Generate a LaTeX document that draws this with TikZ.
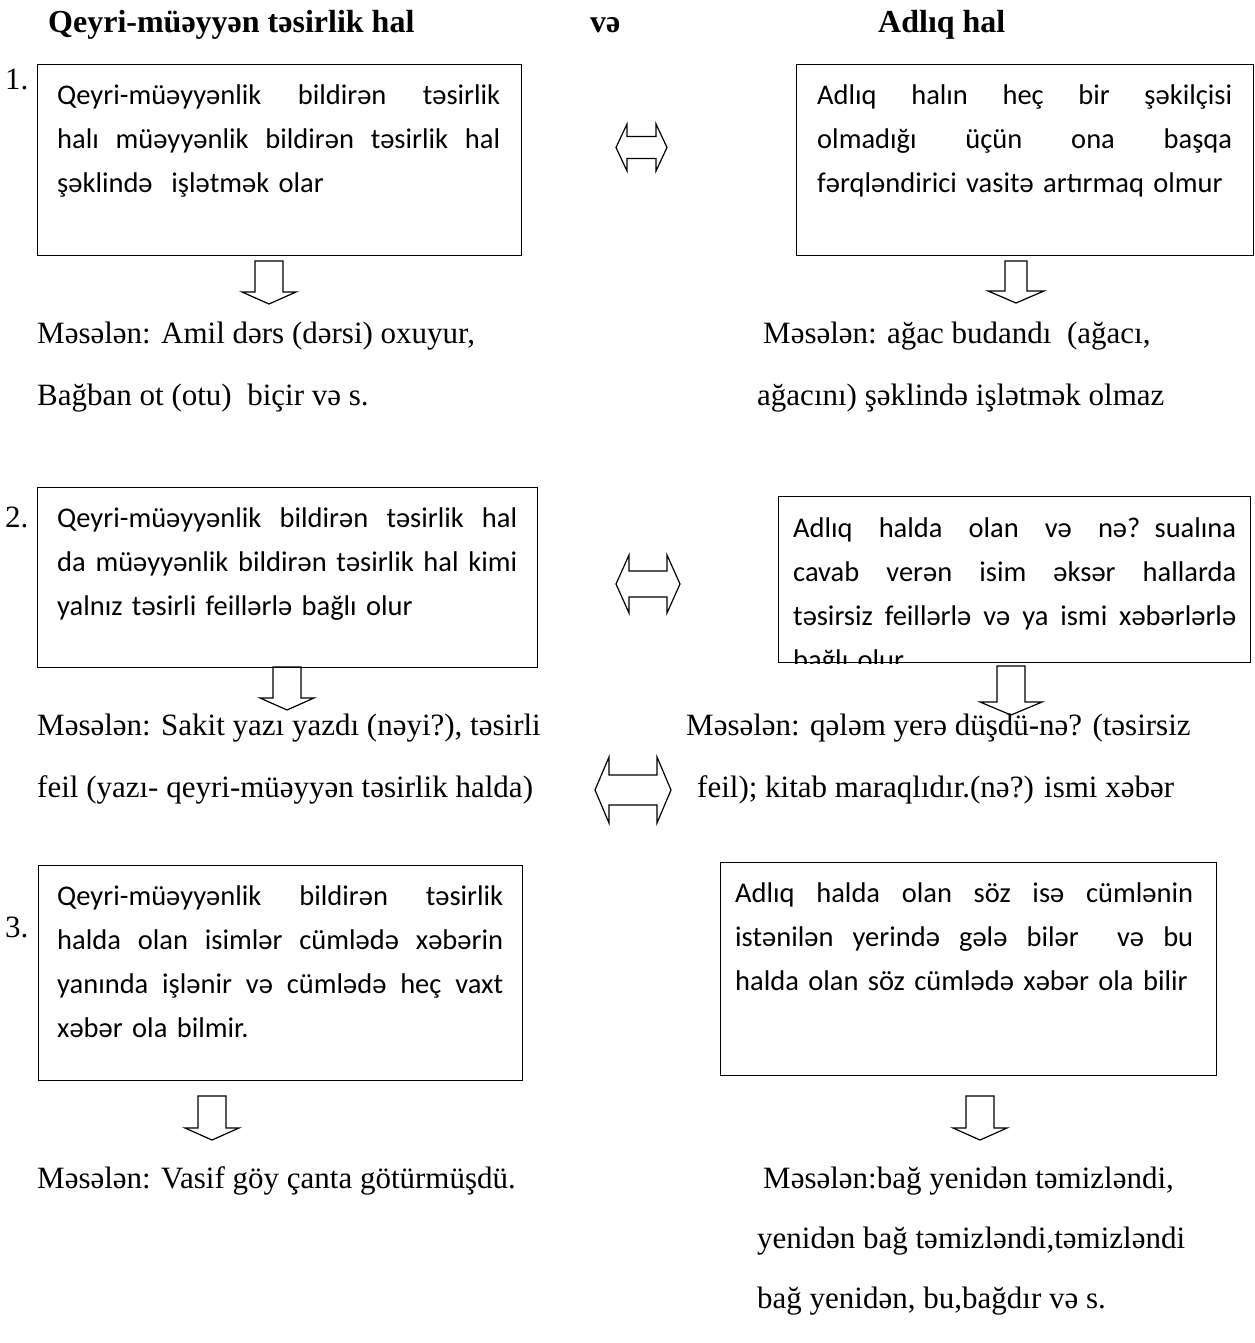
\documentclass[tikz,border=0pt]{standalone}
\usepackage{fontspec}
\setmainfont{Liberation Serif}
\newfontfamily\boxfont{Carlito}
\usetikzlibrary{positioning}
\tikzset{
  frame/.style={draw, line width=1.3pt, rectangle, inner sep=0pt, anchor=north west},
  boxtext/.style={inner sep=0pt, anchor=north west, align=left, text width=#1,
    execute at begin node={\def\fullw{#1}\spaceskip=9.4pt plus 300pt minus 1pt\relax},
    font=\boxfont\fontsize{28.5}{44}\selectfont},
  plain/.style={inner sep=0pt, anchor=base west, font=\fontsize{31}{37}\selectfont},
  heading/.style={plain, font=\bfseries\fontsize{32}{38}\selectfont},
  arrowline/.style={draw, line width=1.2pt, line join=miter},
  % top centre, half shaft, half head, length, head length
  pics/downarrow/.style n args={4}{code={
    \draw[arrowline] (-#1,0) -- (#1,0) -- (#1,#3-#4) -- (#2,#3-#4) -- (0,#3)
      -- (-#2,#3-#4) -- (-#1,#3-#4) -- cycle;}},
  % centre, half length, head length, half head, half shaft
  pics/twoway/.style n args={4}{code={
    \draw[arrowline] (-#1,0) -- (-#1+#2,-#3) -- (-#1+#2,-#4) -- (#1-#2,-#4) -- (#1-#2,-#3)
      -- (#1,0) -- (#1-#2,#3) -- (#1-#2,#4) -- (-#1+#2,#4) -- (-#1+#2,#3) -- cycle;}},
}
\newcommand{\jline}[1]{\makebox[\fullw][s]{#1}}

\begin{document}
\begin{tikzpicture}[x=1pt, y=-1pt]
    \useasboundingbox (0,0) rectangle (1254,1343);

    % headings
    \node[heading] (hleft) at (48,33) {Qeyri-müəyyən təsirlik hal};
    \node[heading] (hand) at (590,33) {və};
    \node[heading] (hright) at (878,33) {Adlıq hal};

    % row 1
    \node[plain] (num1) at (5,90) {1.};
    \node[frame, minimum width=484pt, minimum height=191pt] (b1l) at (37,64) {};
    \node[boxtext=443pt] (t1l) at ([xshift=20pt, yshift=-21pt]b1l.north west)
        {\jline{Qeyri-müəyyənlik bildirən təsirlik}\\\jline{halı müəyyənlik bildirən təsirlik hal}\\şəklində~ işlətmək olar};
    \node[frame, minimum width=457pt, minimum height=191pt] (b1r) at (796,64) {};
    \node[boxtext=415pt] (t1r) at ([xshift=21pt, yshift=-21pt]b1r.north west)
        {\jline{Adlıq halın heç bir şəkilçisi}\\\jline{olmadığı üçün ona başqa}\\fərqləndirici vasitə artırmaq olmur};
    \pic (a1) at (641.5,147.5) {twoway={25.5}{11}{23.5}{11}};
    \pic (d1l) at (269,261) {downarrow={14}{27}{43}{12}};
    \pic (d1r) at (1016,261) {downarrow={11}{28}{42}{12}};
    \node[plain] (n1l) at (37,343) {Məsələn: Amil dərs (dərsi) oxuyur,};
    \node[plain] (n1l2) at (37,405) {Bağban ot (otu)~ biçir və s.};
    \node[plain] (n1r) at (763,343) {Məsələn: ağac budandı~ (ağacı,};
    \node[plain] (n1r2) at (757,405) {ağacını) şəklində işlətmək olmaz};

    % row 2
    \node[plain] (num2) at (5,527) {2.};
    \node[frame, minimum width=500pt, minimum height=180pt] (b2l) at (37,487) {};
    \node[boxtext=460pt] (t2l) at ([xshift=20pt, yshift=-21pt]b2l.north west)
        {\jline{Qeyri-müəyyənlik bildirən təsirlik hal}\\\jline{da müəyyənlik bildirən təsirlik hal kimi}\\yalnız təsirli feillərlə bağlı olur};
    \node[frame, minimum width=472pt, minimum height=166pt] (b2r) at (778,496) {};
    \begin{scope}
        \clip (b2r.north west) rectangle (b2r.south east);
        \node[boxtext=443pt] (t2r) at ([xshift=15pt, yshift=-22pt]b2r.north west)
            {\jline{Adlıq halda olan və nə? sualına}\\\jline{cavab verən isim əksər hallarda}\\\jline{təsirsiz feillərlə və ya ismi xəbərlərlə}\\bağlı olur};
    \end{scope}
    \pic (a2) at (648,584) {twoway={32}{13}{29}{13}};
    \pic (d2l) at (287,667) {downarrow={14}{27}{43}{12}};
    \pic (d2r) at (1011,666) {downarrow={14}{31}{49}{13}};
    \node[plain] (n2l) at (37,735) {Məsələn: Sakit yazı yazdı (nəyi?), təsirli};
    \node[plain] (n2l2) at (37,797) {feil (yazı- qeyri-müəyyən təsirlik halda)};
    \node[plain] (n2r) at (686,735) {Məsələn: qələm yerə düşdü-nə? (təsirsiz};
    \node[plain] (n2r2) at (697,797) {feil); kitab maraqlıdır.(nə?) ismi xəbər};

    % row 3
    \node[plain] (num3) at (5,937) {3.};
    \node[frame, minimum width=484pt, minimum height=215pt] (b3l) at (38,865) {};
    \node[boxtext=446pt] (t3l) at ([xshift=19pt, yshift=-21pt]b3l.north west)
        {\jline{Qeyri-müəyyənlik bildirən təsirlik}\\\jline{halda olan isimlər cümlədə xəbərin}\\\jline{yanında işlənir və cümlədə heç vaxt}\\xəbər ola bilmir.};
    \node[frame, minimum width=496pt, minimum height=213pt] (b3r) at (720,862) {};
    \node[boxtext=458pt] (t3r) at ([xshift=15pt, yshift=-21pt]b3r.north west)
        {\jline{Adlıq halda olan söz isə cümlənin}\\\jline{istənilən yerində gələ bilər~ və bu}\\halda olan söz cümlədə xəbər ola bilir};
    \pic (a3) at (633,790) {twoway={38}{14}{33}{15}};
    \pic (d3l) at (212,1096) {downarrow={14}{27}{44}{12}};
    \pic (d3r) at (980,1096) {downarrow={14}{27}{44}{12}};
    \node[plain] (n3l) at (37,1188) {Məsələn: Vasif göy çanta götürmüşdü.};
    \node[plain] (n3r) at (763,1188) {Məsələn:bağ yenidən təmizləndi,};
    \node[plain] (n3r2) at (757,1248) {yenidən bağ təmizləndi,təmizləndi};
    \node[plain] (n3r3) at (757,1308) {bağ yenidən, bu,bağdır və s.};
\end{tikzpicture}
\end{document}
